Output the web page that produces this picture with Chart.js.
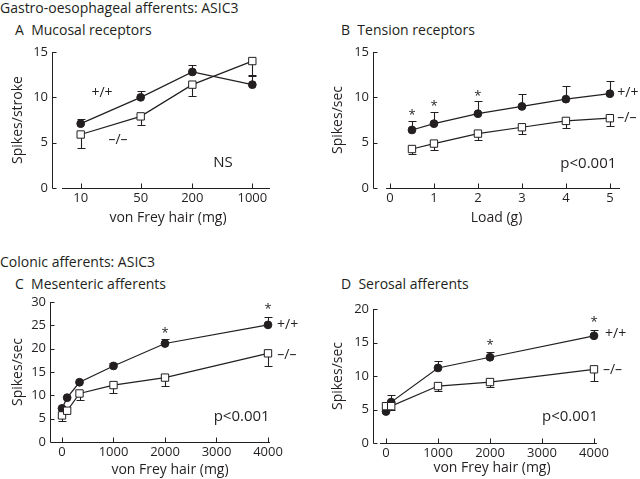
<!DOCTYPE html>
<html>
<head>
<meta charset="utf-8">
<script src="https://cdn.jsdelivr.net/npm/chart.js@4.4.1/dist/chart.umd.min.js"></script>
<style>
  body { margin: 0; background: #fff; font-family: "Open Sans", Lato, sans-serif; color: #231f20; }
  #page { position: relative; width: 640px; height: 479px; overflow: hidden; }
  .head { position: absolute; font-size: 14px; white-space: nowrap; line-height: 16px; }
  .box { position: absolute; }
</style>
</head>
<body>
<div id="page">
  <div class="head" style="left:0;top:0">Gastro-oesophageal afferents: ASIC3</div>
  <div class="head" style="left:15px;top:22px">A&nbsp;&nbsp;Mucosal receptors</div>
  <div class="head" style="left:341px;top:22px">B&nbsp;&nbsp;Tension receptors</div>
  <div class="head" style="left:0;top:254px">Colonic afferents: ASIC3</div>
  <div class="head" style="left:15px;top:276px">C&nbsp;&nbsp;Mesenteric afferents</div>
  <div class="head" style="left:341px;top:276px">D&nbsp;&nbsp;Serosal afferents</div>

  <div class="box" style="left:0;top:40px"><canvas id="chartA" width="320" height="197"></canvas></div>
  <div class="box" style="left:320px;top:40px"><canvas id="chartB" width="320" height="197"></canvas></div>
  <div class="box" style="left:0;top:290px"><canvas id="chartC" width="320" height="189"></canvas></div>
  <div class="box" style="left:320px;top:290px"><canvas id="chartD" width="320" height="189"></canvas></div>
</div>

<script>
// Panel A - mucosal receptors (von Frey hair, log axis)
var aHairs = [10, 50, 200, 1000];
var aWild = [7.1, 10.0, 12.8, 11.4];
var aWildTop = [7.6, 10.7, 13.6, 12.4];
var aKnock = [5.9, 7.9, 11.4, 14.0];
var aKnockLow = [4.4, 6.9, 10.1, 12.5];

// Panel B - tension receptors
var bLoads = [0.5, 1, 2, 3, 4, 5];
var bTicks = [0, 1, 2, 3, 4, 5];
var bWild = [6.4, 7.1, 8.2, 9.0, 9.8, 10.4];
var bWildTop = [7.4, 8.4, 9.6, 10.4, 11.2, 11.8];
var bKnock = [4.3, 4.9, 6.0, 6.7, 7.4, 7.7];
var bKnockLow = [3.8, 4.2, 5.3, 6.0, 6.6, 6.8];

// Panel C - mesenteric afferents
var cHairs = [0, 100, 340, 1000, 2000, 4000];
var cWild = [7.2, 9.5, 12.8, 16.3, 21.1, 25.1];
var cWildTop = [null, null, null, 17.0, 22.0, 26.8];
var cKnock = [5.7, 6.7, 10.4, 12.2, 13.8, 19.0];
var cKnockLow = [4.6, null, 8.9, 10.4, 12.0, 16.3];

// Panel D - serosal afferents
var dHairs = [0, 100, 1000, 2000, 4000];
var dWild = [4.7, 6.1, 11.2, 12.8, 16.0];
var dWildTop = [null, 7.1, 12.3, 13.6, 16.9];
var dKnock = [5.5, 5.5, 8.5, 9.1, 11.0];
var dKnockLow = [null, 4.9, 7.7, 8.4, 9.2];

var xTickA = [10, 50, 200, 1000];
var xTickCD = [0, 1000, 2000, 3000, 4000];

var INK = '#231f20';
var FONT = '"Open Sans", Lato, sans-serif';

function pts(xs, ys) {
    return xs.map(function (x, i) { return { x: x, y: ys[i] }; });
}

// axes with inward ticks, error bars, x title and text notes
var decor = {
    id: 'decor',
    beforeDatasetsDraw: function (chart, args, opts) {
        var ctx = chart.ctx, area = chart.chartArea;
        var xs = chart.scales.x, ys = chart.scales.y;
        ctx.save();
        ctx.strokeStyle = INK;
        ctx.lineWidth = 1;
        ctx.beginPath();
        var ax = Math.round(area.left) + 0.5;
        var ay = Math.round(area.bottom) + 0.5;
        ctx.moveTo(ax, Math.round(area.top));
        ctx.lineTo(ax, ay);
        ys.ticks.forEach(function (t) {
            var py = Math.round(ys.getPixelForValue(t.value)) + 0.5;
            ctx.moveTo(ax, py);
            ctx.lineTo(ax + 4, py);
        });
        ctx.moveTo(xs.getPixelForValue(opts.xStart), ay);
        ctx.lineTo(area.right, ay);
        xs.ticks.forEach(function (t) {
            var px = Math.round(xs.getPixelForValue(t.value)) + 0.5;
            ctx.moveTo(px, ay);
            ctx.lineTo(px, ay - 5);
        });
        ctx.stroke();

        ctx.lineWidth = 1.1;
        ctx.beginPath();
        opts.bars.forEach(function (b) {
            b.xs.forEach(function (xv, i) {
                var e = b.ends[i];
                if (e === null || e === undefined) return;
                var px = Math.round(xs.getPixelForValue(xv)) + 0.5;
                var py = ys.getPixelForValue(b.ys[i]);
                var pe = Math.round(ys.getPixelForValue(e)) + 0.5;
                ctx.moveTo(px, py);
                ctx.lineTo(px, pe);
                ctx.moveTo(px - 4, pe);
                ctx.lineTo(px + 4, pe);
            });
        });
        ctx.stroke();
        ctx.restore();
    },
    afterDatasetsDraw: function (chart, args, opts) {
        var ctx = chart.ctx, area = chart.chartArea;
        var xs = chart.scales.x, ys = chart.scales.y;
        ctx.save();
        ctx.fillStyle = INK;
        ctx.textBaseline = 'middle';
        opts.notes.forEach(function (n) {
            ctx.font = (n.size || 14) + 'px ' + FONT;
            ctx.textAlign = n.align || 'center';
            var shift = n.text === '*' ? 3 : 0;
            ctx.fillText(n.text, xs.getPixelForValue(n.x), ys.getPixelForValue(n.y) + shift);
        });
        // x axis title, centred a little right of the plot centre as in the figure
        ctx.font = '14px ' + FONT;
        ctx.textAlign = 'center';
        ctx.fillText(opts.xTitle, (area.left + area.right) / 2 + opts.xTitleShift,
            area.bottom + opts.xTitleDrop);
        ctx.restore();
    }
};

function makeChart(id, cfg) {
    var wild = {
        data: pts(cfg.xs, cfg.wild),
        borderColor: INK, borderWidth: 1.2,
        pointStyle: 'circle', pointRadius: 3.9,
        pointBackgroundColor: INK, pointBorderColor: INK, pointBorderWidth: 1,
        tension: 0, clip: false
    };
    var knock = {
        data: pts(cfg.xs, cfg.knock),
        borderColor: INK, borderWidth: 1.2,
        pointStyle: 'rect', pointRadius: 5.2,
        pointBackgroundColor: '#fff', pointBorderColor: INK, pointBorderWidth: 1,
        tension: 0, clip: false
    };
    return new Chart(document.getElementById(id), {
        type: 'line',
        data: { datasets: [knock, wild] },
        plugins: [decor],
        options: {
            responsive: false,
            animation: false,
            events: [],
            layout: { padding: cfg.pad },
            plugins: {
                legend: { display: false },
                tooltip: { enabled: false },
                decor: {
                    xStart: cfg.xStart,
                    xTitle: cfg.xTitle,
                    xTitleShift: cfg.xTitleShift,
                    xTitleDrop: cfg.xTitleDrop,
                    bars: [
                        { xs: cfg.xs, ys: cfg.wild, ends: cfg.wildEnds },
                        { xs: cfg.xs, ys: cfg.knock, ends: cfg.knockEnds }
                    ],
                    notes: cfg.notes
                }
            },
            scales: {
                x: {
                    type: cfg.xType,
                    min: cfg.xMin, max: cfg.xMax,
                    grid: { display: false, drawTicks: false },
                    border: { display: false },
                    afterBuildTicks: function (s) {
                        s.ticks = cfg.xTicks.map(function (v) { return { value: v }; });
                    },
                    afterFit: function (s) { s.height = cfg.xHeight; },
                    ticks: {
                        color: INK, padding: 2, maxRotation: 0, autoSkip: false,
                        font: { family: FONT, size: 13 },
                        callback: function (v) { return String(v); }
                    }
                },
                y: {
                    min: 0, max: cfg.yMax,
                    grid: { display: false, drawTicks: false },
                    border: { display: false },
                    afterFit: function (s) { s.width = cfg.yWidth; },
                    ticks: {
                        stepSize: cfg.yStep, color: INK, padding: 4,
                        font: { family: FONT, size: 13 }
                    },
                    title: {
                        display: true, text: cfg.yTitle, color: INK,
                        font: { family: FONT, size: 14 },
                        padding: { top: 10, bottom: 0 }
                    }
                }
            }
        }
    });
}

makeChart('chartA', {
    xs: aHairs, wild: aWild, knock: aKnock, wildEnds: aWildTop, knockEnds: aKnockLow,
    xType: 'logarithmic', xMin: 4.63, xMax: 1607, xStart: 6.06, xTicks: xTickA,
    yMax: 15, yStep: 5, yWidth: 52, xHeight: 49,
    pad: { top: 12, right: 50, left: 0, bottom: 0 },
    xTitle: 'von Frey hair (mg)', xTitleShift: 7, xTitleDrop: 30, yTitle: 'Spikes/stroke',
    notes: [
        { x: 17.7, y: 10.5, text: '+/+' },
        { x: 27.2, y: 5.3, text: '\u2013/\u2013' },
        { x: 455, y: 2.8, text: 'NS', size: 15 }
    ]
});

makeChart('chartB', {
    xs: bLoads, wild: bWild, knock: bKnock, wildEnds: bWildTop, knockEnds: bKnockLow,
    xType: 'linear', xMin: -0.386, xMax: 5.23, xStart: -0.09, xTicks: bTicks,
    yMax: 15, yStep: 5, yWidth: 53, xHeight: 49,
    pad: { top: 12, right: 20, left: 0, bottom: 0 },
    xTitle: 'Load (g)', xTitleShift: 0, xTitleDrop: 30, yTitle: 'Spikes/sec',
    notes: [
        { x: 0.5, y: 8.4, text: '*', size: 13 },
        { x: 1, y: 9.3, text: '*', size: 13 },
        { x: 2, y: 10.5, text: '*', size: 13 },
        { x: 5.17, y: 10.44, text: '+/+', align: 'left' },
        { x: 5.17, y: 7.72, text: '\u2013/\u2013', align: 'left' },
        { x: 4.51, y: 2.72, text: 'p<0.001', size: 15 }
    ]
});

makeChart('chartC', {
    xs: cHairs, wild: cWild, knock: cKnock, wildEnds: cWildTop, knockEnds: cKnockLow,
    xType: 'linear', xMin: -233, xMax: 4039, xStart: -175, xTicks: xTickCD,
    yMax: 30, yStep: 5, yWidth: 50, xHeight: 37,
    pad: { top: 12, right: 50, left: 0, bottom: 0 },
    xTitle: 'von Frey hair (mg)', xTitleShift: 10, xTitleDrop: 28, yTitle: 'Spikes/sec',
    notes: [
        { x: 2000, y: 24.0, text: '*', size: 13 },
        { x: 4000, y: 29.0, text: '*', size: 13 },
        { x: 4175, y: 25.1, text: '+/+', align: 'left' },
        { x: 4180, y: 18.6, text: '\u2013/\u2013', align: 'left' },
        { x: 3489, y: 5.4, text: 'p<0.001', size: 15 }
    ]
});

makeChart('chartD', {
    xs: dHairs, wild: dWild, knock: dKnock, wildEnds: dWildTop, knockEnds: dKnockLow,
    xType: 'linear', xMin: -250, xMax: 4058, xStart: -115, xTicks: xTickCD,
    yMax: 20, yStep: 5, yWidth: 53, xHeight: 36,
    pad: { top: 19, right: 43, left: 0, bottom: 0 },
    xTitle: 'von Frey hair (mg)', xTitleShift: 7, xTitleDrop: 25, yTitle: 'Spikes/sec',
    notes: [
        { x: 2000, y: 15.0, text: '*', size: 13 },
        { x: 4000, y: 18.5, text: '*', size: 13 },
        { x: 4212, y: 16.3, text: '+/+', align: 'left' },
        { x: 4173, y: 10.9, text: '\u2013/\u2013', align: 'left' },
        { x: 3538, y: 3.9, text: 'p<0.001', size: 15 }
    ]
});
</script>
</body>
</html>
